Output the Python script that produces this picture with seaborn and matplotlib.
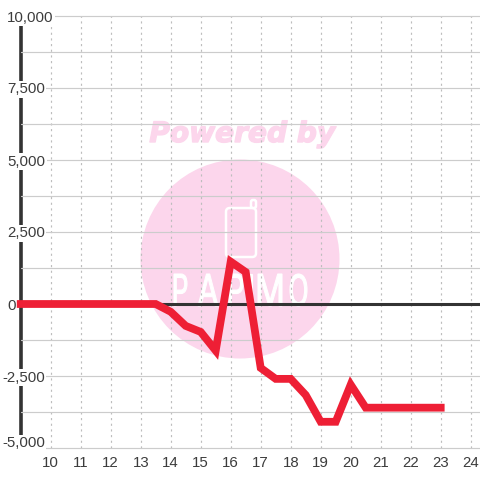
import matplotlib
matplotlib.use("Agg")
import matplotlib.pyplot as plt
import matplotlib.patheffects as pe
import seaborn as sns
import pandas as pd
from matplotlib.patches import Circle, FancyBboxPatch, PathPatch
from matplotlib.textpath import TextPath
from matplotlib.font_manager import FontProperties
from matplotlib.ticker import MultipleLocator, FuncFormatter
from matplotlib.transforms import Affine2D, ScaledTranslation

sns.set_theme(style="white")
plt.rcParams['font.family'] = ['Liberation Sans', 'DejaVu Sans']

# Data
hours = [9, 9.5, 10, 10.5, 11, 11.5, 12, 12.5, 13, 13.5, 14, 14.5, 15, 15.5, 16, 16.5,
         17, 17.5, 18, 18.5, 19, 19.5, 20, 20.5, 21, 21.5, 22, 22.5, 23]
values = [0, 0, 0, 0, 0, 0, 0, 0, 0, 0, -270, -760, -970, -1620, 1470, 1110,
          -2220, -2600, -2600, -3160, -4090, -4090, -2800, -3600, -3600, -3600, -3600, -3600, -3600]
x_ticks = list(range(10, 25))
y_ticks = [-5000, -2500, 0, 2500, 5000, 7500, 10000]

RED = '#EE1F35'
DARK = '#333333'
GRID = '#CCCCCC'
PINK = '#FCD6EC'

df = pd.DataFrame({'hour': hours, 'value': values})

fig = plt.figure(figsize=(4.8, 4.8), dpi=100, facecolor='white')
ax = fig.add_axes([20.7 / 480, 32 / 480, 459.3 / 480, 432 / 480])
ax.patch.set_visible(False)

# Watermark sits behind the axes
def px(x, y):
    return x / 480, 1 - y / 480

fig.add_artist(Circle(px(240, 259), 99.5 / 480, transform=fig.transFigure,
                      facecolor=PINK, edgecolor='none', zorder=-3))
fig.text(*px(242, 134), 'Powered by', family='DejaVu Sans', weight='bold', style='italic',
         fontsize=20.2, color=PINK, ha='center', va='center', zorder=-2,
         path_effects=[pe.withStroke(linewidth=1.0, foreground=PINK)])
fig.add_artist(FancyBboxPatch(px(226, 257), 30 / 480, 49 / 480,
                              boxstyle='round,pad=0,rounding_size=0.008', transform=fig.transFigure,
                              facecolor='none', edgecolor='white', linewidth=1.8, zorder=-2))
fig.add_artist(FancyBboxPatch(px(251, 208), 5 / 480, 8 / 480,
                              boxstyle='round,pad=0,rounding_size=0.004', transform=fig.transFigure,
                              facecolor=PINK, edgecolor='white', linewidth=1.8, zorder=-2))

# Logo letters squeezed into narrow boxes: letter, left px, right px
for letter, left, right in [('P', 174, 187), ('A', 198, 218), ('P', 229, 243),
                            ('I', 249, 252), ('M', 258, 282), ('O', 290, 307)]:
    glyph = TextPath((0, 0), letter, size=1, prop=FontProperties(family='Liberation Sans'))
    box = glyph.get_extents()
    tf = Affine2D().translate(-box.x0, -box.y0) \
        .scale((right - left) / box.width / 480, 32 / box.height / 480) \
        .translate(*px(left, 306)) + fig.transFigure
    fig.add_artist(PathPatch(glyph, transform=tf, facecolor='white', edgecolor='white',
                             linewidth=0.8, zorder=-2))

sns.lineplot(data=df, x='hour', y='value', ax=ax, color=RED, linewidth=5.6, estimator=None, sort=False,
             solid_capstyle='projecting', solid_joinstyle='miter', clip_on=False, zorder=3)
ax.axhline(0, color=DARK, linewidth=2.2, zorder=1)

ax.set_xlim(9, 24.31)
ax.set_ylim(-5000, 10000)
ax.set_xlabel('')
ax.set_ylabel('')
ax.set_xticks(x_ticks)
ax.set_yticks(y_ticks)
ax.yaxis.set_minor_locator(MultipleLocator(1250))
ax.yaxis.set_major_formatter(FuncFormatter(lambda v, pos: f'{int(v):,}'))

ax.set_axisbelow(True)
ax.grid(axis='y', which='both', color=GRID, linewidth=0.85, linestyle='-')
ax.grid(axis='x', which='major', color='#BDBDBD', linewidth=0.85, linestyle=(0, (1.8, 3.0)))
for line in ax.yaxis.get_gridlines():
    line.set_clip_on(False)

ax.tick_params(axis='x', which='both', length=0, pad=6, labelsize=10.8, labelcolor='#3C3C3C')
ax.tick_params(axis='y', which='both', length=0, pad=9.7, labelsize=10.8, labelcolor='#3C3C3C')
labels = ax.get_yticklabels()
for label in labels:
    label.set_ha('left')
    label.set_bbox(dict(facecolor='white', edgecolor='none', pad=1.0))
# negative labels hang their sign out to the left, lowest one stands on the bottom edge
labels[0].set_va('bottom')
labels[0].set_transform(labels[0].get_transform() + ScaledTranslation(-5 / 100, -2 / 100, fig.dpi_scale_trans))
labels[1].set_transform(labels[1].get_transform() + ScaledTranslation(-5 / 100, 0, fig.dpi_scale_trans))

for side in ['top', 'right', 'bottom']:
    ax.spines[side].set_visible(False)
ax.spines['left'].set_color(DARK)
ax.spines['left'].set_linewidth(2.6)
ax.spines['left'].set_zorder(0.4)

fig.savefig('out.png', dpi=100)
